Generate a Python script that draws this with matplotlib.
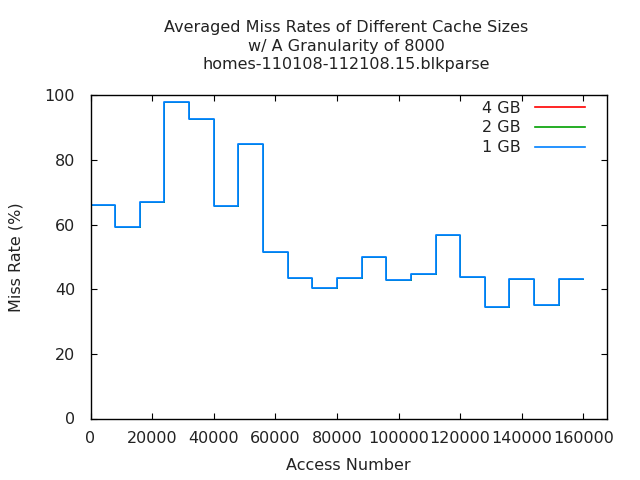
import matplotlib
matplotlib.use("Agg")
import matplotlib.pyplot as plt
import numpy as np

# access number at start of each 8000-access window
access = np.arange(0, 160001, 8000)
miss_1gb = [66.0, 59.3, 67.1, 98.0, 92.8, 65.7, 85.0, 51.5, 43.4, 40.3,
            43.4, 49.9, 42.8, 44.6, 56.7, 43.7, 34.4, 43.1, 35.0, 43.1, 43.1]
# larger caches give the same curve here (hidden under the 1 GB line)
miss_2gb = list(miss_1gb)
miss_4gb = list(miss_1gb)
labels = ["4 GB", "2 GB", "1 GB"]
colors = ["#ff0000", "#00a000", "#0080ff"]

fs = 11.5
plt.rcParams["font.family"] = "DejaVu Sans"
plt.rcParams["font.size"] = fs
txt = "#222222"

fig = plt.figure(figsize=(6.4, 4.8), dpi=100)
ax = fig.add_axes([90.5 / 640, 1 - 418.5 / 480, (606.5 - 90.5) / 640, (418.5 - 95.5) / 480])

for series, lab, col in zip([miss_4gb, miss_2gb, miss_1gb], labels, colors):
    top = lab == "1 GB"
    ax.plot(access, series, drawstyle="steps-post", color=col,
            lw=1.3 if top else 0.5, antialiased=top, label=lab)

ax.set_xlim(0, 167500)
ax.set_ylim(0, 100)
ax.set_xticks(np.arange(0, 160001, 20000))
ax.set_yticks(np.arange(0, 101, 20))
ax.tick_params(direction="in", length=4, width=0.8, top=True, right=True,
               labelsize=fs, colors="black", labelcolor=txt)
ax.tick_params(axis="y", pad=11)
ax.tick_params(axis="x", pad=9)
for sp in ax.spines.values():
    sp.set_linewidth(1.0)

ax.set_xlabel("Access Number", fontsize=fs, labelpad=9, color=txt)
ax.set_ylabel("Miss Rate (%)", fontsize=fs, labelpad=15, color=txt)
ax.set_title("Averaged Miss Rates of Different Cache Sizes\nw/ A Granularity of 8000\n"
             "homes-110108-112108.15.blkparse", fontsize=fs, pad=19,
             linespacing=1.3, color=txt, x=0.496)

leg = ax.legend(loc="upper right", frameon=False, markerfirst=False, fontsize=fs,
                handlelength=3.1, handletextpad=0.9, labelspacing=0.3,
                borderaxespad=0.0, bbox_to_anchor=(0.970, 1.004))
for t in leg.get_texts():
    t.set_color(txt)
for h in leg.get_lines():
    h.set_linewidth(1.2)
    h.set_antialiased(True)

fig.savefig("out.png", dpi=100)
